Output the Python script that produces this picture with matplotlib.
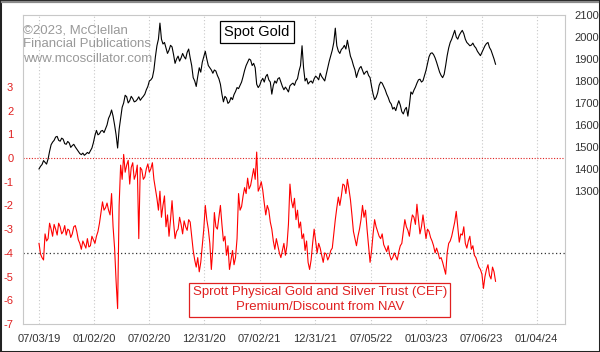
import numpy as np
import pandas as pd
import matplotlib
matplotlib.use("Agg")
import matplotlib.pyplot as plt
from matplotlib.patches import Rectangle
from matplotlib.lines import Line2D

plt.rcParams['font.family'] = ['Liberation Sans', 'DejaVu Sans']

# one value every 5 days from 07/03/19
start = '2019-07-03'
gold = [1400, 1412, 1420, 1438, 1430, 1422, 1445, 1480, 1510, 1522,
        1530, 1545, 1548, 1530, 1526, 1540, 1535, 1515, 1512, 1525,
        1518, 1498, 1506, 1512, 1500, 1490, 1480, 1470, 1465, 1472,
        1462, 1468, 1475, 1470, 1482, 1495, 1520, 1552, 1575, 1555,
        1560, 1572, 1575, 1565, 1582, 1600, 1630, 1645, 1668, 1640,
        1600, 1555, 1495, 1580, 1630, 1680, 1700, 1735, 1728, 1700,
        1710, 1730, 1720, 1705, 1708, 1716, 1728, 1712, 1722, 1730,
        1740, 1760, 1775, 1800, 1805, 1815, 1850, 1910, 1960, 1990,
        2063, 1990, 1968, 1975, 1950, 1925, 1940, 1962, 1955, 1920,
        1880, 1900, 1913, 1890, 1905, 1925, 1910, 1900, 1930, 1945,
        1905, 1870, 1815, 1800, 1775, 1820, 1860, 1840, 1885, 1910,
        1935, 1900, 1870, 1860, 1850, 1835, 1850, 1845, 1825, 1810,
        1785, 1740, 1705, 1730, 1722, 1698, 1705, 1725, 1715, 1738,
        1752, 1770, 1765, 1780, 1795, 1820, 1848, 1870, 1885, 1900,
        1895, 1870, 1880, 1860, 1785, 1770, 1780, 1800, 1812, 1795,
        1820, 1830, 1805, 1795, 1740, 1780, 1800, 1790, 1810, 1815,
        1795, 1775, 1760, 1772, 1762, 1750, 1778, 1785, 1790, 1780,
        1800, 1810, 1845, 1870, 1960, 1860, 1800, 1812, 1786, 1795,
        1800, 1790, 1810, 1822, 1815, 1805, 1835, 1820, 1810, 1800,
        1830, 1862, 1890, 1915, 1940, 1975, 2040, 1960, 1936, 1925,
        1943, 1950, 1962, 1945, 1985, 1950, 1913, 1895, 1870, 1850,
        1816, 1840, 1858, 1866, 1848, 1830, 1840, 1845, 1825, 1815,
        1775, 1740, 1715, 1725, 1745, 1780, 1795, 1790, 1775, 1760,
        1740, 1725, 1705, 1695, 1672, 1680, 1665, 1690, 1710, 1690,
        1660, 1650, 1670, 1680, 1640, 1690, 1750, 1740, 1758, 1772,
        1790, 1805, 1808, 1795, 1801, 1825, 1848, 1880, 1910, 1925,
        1928, 1920, 1905, 1885, 1862, 1840, 1825, 1815, 1830, 1870,
        1915, 1950, 1975, 1990, 2010, 2030, 2000, 1990, 2008, 2020,
        2030, 2015, 1990, 1975, 1968, 1960, 1963, 1972, 1958, 1950,
        1935, 1925, 1915, 1930, 1945, 1960, 1970, 1975, 1952, 1940,
        1920, 1900, 1876]

cef = [-3.6, -4.05, -4.2, -4.3, -3.2, -3.5, -3.4, -2.75, -3.0, -3.3,
       -2.8, -3.0, -3.25, -2.75, -2.9, -3.2, -3.1, -2.85, -3.25, -3.0,
       -3.05, -3.35, -3.2, -2.9, -2.85, -3.1, -3.45, -3.6, -3.85, -3.5,
       -3.65, -3.8, -3.4, -3.75, -3.7, -3.3, -3.45, -3.6, -3.3, -3.1,
       -2.75, -2.3, -1.85, -2.2, -2.1, -1.9, -2.2, -2.4, -1.5, -2.9,
       -3.8, -5.2, -6.35, -2.0, -0.3, -0.9, 0.15, -0.6, -0.3, -0.1,
       -1.1, -0.4, -0.2, -0.9, -0.7, -0.3, -3.4, -0.4, -0.5, -0.9,
       -0.8, -0.45, -0.25, -0.6, -0.45, -0.2, -0.9, -1.3, -1.7, -2.2,
       -1.4, -2.5, -2.0, -1.6, -2.9, -2.4, -3.3, -2.6, -1.8, -2.7,
       -3.4, -3.1, -3.0, -2.5, -2.8, -3.2, -2.65, -2.9, -3.05, -2.6,
       -2.7, -3.3, -3.9, -4.3, -4.6, -4.2, -4.8, -4.4, -3.7, -3.0,
       -2.0, -2.6, -3.0, -3.6, -4.7, -3.8, -2.3, -2.9, -3.0, -2.5,
       -2.0, -2.8, -3.5, -3.3, -4.1, -3.7, -4.7, -4.3, -3.9, -4.5,
       -4.2, -3.4, -1.5, -2.2, -2.05, -1.6, -1.25, -1.5, -0.85, -1.3,
       -1.15, -0.8, -0.45, -0.9, 0.25, -1.4, -1.25, -1.0, -1.35, -1.9,
       -2.4, -2.0, -2.2, -2.7, -3.0, -3.5, -3.85, -3.4, -3.7, -4.0,
       -4.2, -3.9, -3.6, -4.1, -3.7, -2.8, -1.1, -1.8, -2.1, -1.7,
       -2.6, -2.2, -2.95, -2.7, -3.4, -3.2, -3.9, -3.5, -4.4, -4.7,
       -4.3, -3.6, -3.0, -3.5, -4.0, -3.6, -3.8, -4.1, -4.4, -4.0,
       -4.05, -4.3, -4.15, -3.9, -3.8, -3.2, -2.6, -2.1, -1.65, -2.0,
       -1.6, -1.1, -1.15, -1.5, -0.9, -1.3, -1.75, -2.4, -3.1, -3.4,
       -3.7, -3.3, -3.0, -2.6, -2.0, -2.5, -2.2, -3.0, -3.7, -4.4,
       -3.9, -3.2, -2.6, -2.9, -3.1, -3.3, -3.4, -3.2, -3.65, -3.8,
       -3.95, -3.7, -4.1, -4.3, -4.2, -4.0, -4.15, -4.3, -3.95, -3.7,
       -3.6, -3.1, -2.6, -2.9, -3.05, -3.3, -2.75, -2.4, -2.5, -2.8,
       -1.95, -2.6, -3.2, -2.9, -2.4, -2.9, -3.4, -3.0, -3.1, -3.35,
       -3.5, -3.7, -4.0, -3.8, -4.0, -4.25, -4.2, -4.4, -4.65, -4.9,
       -4.0, -3.6, -3.5, -3.3, -3.0, -2.7, -2.25, -2.9, -3.55, -3.2,
       -3.25, -2.9, -3.6, -3.8, -3.5, -3.3, -3.85, -3.7, -4.1, -4.2,
       -4.4, -4.6, -4.7, -4.9, -5.5, -5.0, -4.7, -4.5, -4.95, -5.1,
       -4.6, -4.8, -5.2]

dates = pd.date_range(start, periods=len(gold), freq='5D')

tick_dates = ['2019-07-03', '2020-01-02', '2020-07-02', '2020-12-31', '2021-07-02',
              '2021-12-31', '2022-07-05', '2023-01-03', '2023-07-06', '2024-01-04']
tick_labels = ['07/03/19', '01/02/20', '07/02/20', '12/31/20', '07/02/21',
               '12/31/21', '07/05/22', '01/03/23', '07/06/23', '01/04/24']
left_ticks = [3, 2, 1, 0, -1, -2, -3, -4, -5, -6, -7]
right_ticks = [1300, 1400, 1500, 1600, 1700, 1800, 1900, 2000, 2100]

fig = plt.figure(figsize=(6, 3.52), dpi=100)
# window-like frame: dark left/bottom/right, grey top
fig.patches.append(Rectangle((0, 0), 1, 1, transform=fig.transFigure,
                             fill=False, edgecolor='#222222', linewidth=2.2))
fig.lines.append(Line2D([0.003, 0.997], [0.993, 0.993], transform=fig.transFigure,
                        color='#8a8a8a', linewidth=1.6))
ax = fig.add_axes([0.0383, 0.0795, 0.903, 0.878])

ax.set_xlim(pd.Timestamp('2019-05-11'), pd.Timestamp('2024-04-06'))
ax.set_ylim(-7, 6.03)
ax.set_xticks(pd.to_datetime(tick_dates))
ax.set_xticklabels(tick_labels, fontsize=8, color='#333333')
ax.set_yticks(left_ticks)
ax.set_yticklabels([str(t) for t in left_ticks], fontsize=8, color='#e02020')
ax.tick_params(axis='both', length=0, pad=7)
ax.grid(axis='x', color='#c8c8c8', linestyle=(0, (1, 2)), linewidth=0.8)
for s in ax.spines.values():
    s.set_color('#c8c8c8')

ax.axhline(0, color='#e02020', linestyle=(0, (1, 1.5)), linewidth=0.8)
ax.axhline(-4, color='#333333', linestyle=(0, (1, 2)), linewidth=0.9)
ax.plot(dates, cef, color='#ff0000', linewidth=0.8)

ax2 = ax.twinx()
ax2.set_ylim(695, 2100)
ax2.set_yticks(right_ticks)
ax2.set_yticklabels([str(t) for t in right_ticks], fontsize=8, color='#333333')
ax2.tick_params(axis='y', length=0, pad=7)
for s in ax2.spines.values():
    s.set_visible(False)
ax2.plot(dates, gold, color='black', linewidth=0.8)

ax.text(0.0, 0.97, '©2023, McClellan\nFinancial Publications\nwww.mcoscillator.com',
        transform=ax.transAxes, fontsize=9.5, color='#999999', va='top', ha='left',
        linespacing=1.25)
ax.text(0.432, 0.945, 'Spot Gold', transform=ax.transAxes, fontsize=10.5,
        ha='center', va='center', color='black',
        bbox=dict(boxstyle='square,pad=0.3', facecolor='white', edgecolor='black', linewidth=0.9))
ax.text(0.548, 0.078, 'Sprott Physical Gold and Silver Trust (CEF)\nPremium/Discount from NAV',
        transform=ax.transAxes, fontsize=9.5, ha='center', va='center', color='#e02020',
        linespacing=1.35,
        bbox=dict(boxstyle='square,pad=0.25', facecolor='white', edgecolor='#e02020', linewidth=0.9))

fig.savefig('out.png', dpi=100)
